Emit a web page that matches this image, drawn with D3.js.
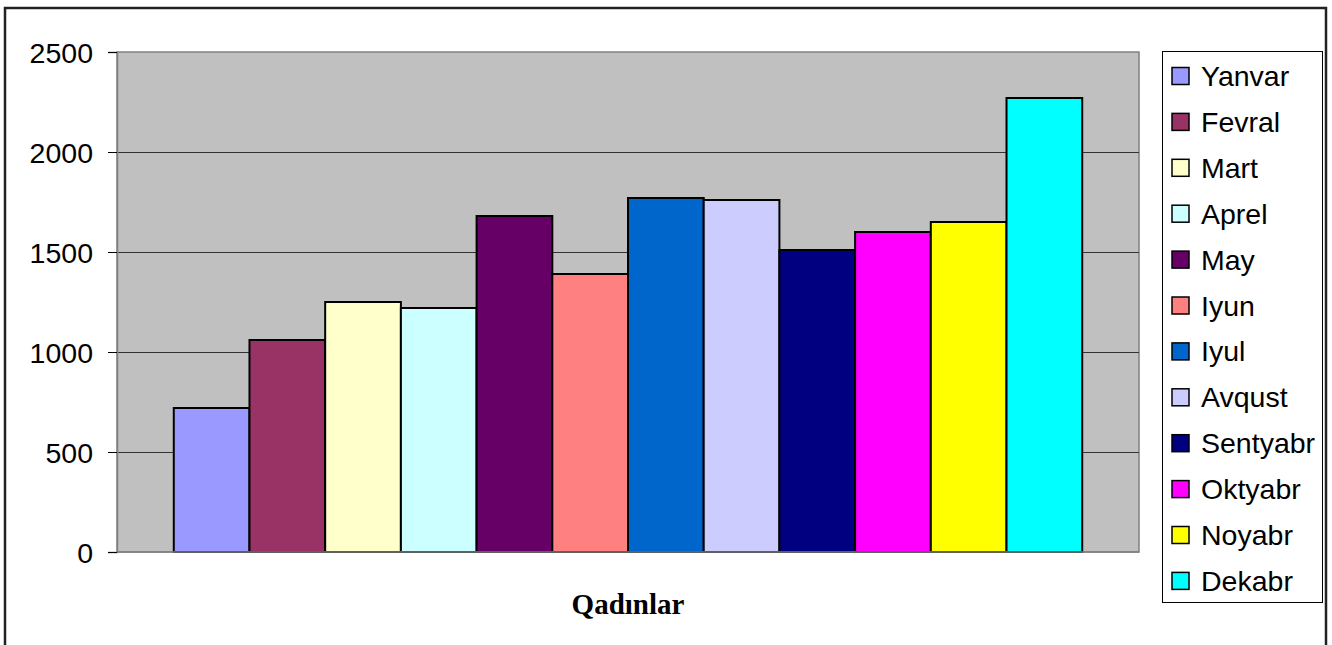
<!DOCTYPE html>
<html>
<head>
<meta charset="utf-8">
<script src="https://cdn.jsdelivr.net/npm/d3@7"></script>
<style>
  body { margin: 0; background: #fff; }
  svg { display: block; }
</style>
</head>
<body>
<div id="chart"></div>
<script>
var width = 1332;
var height = 645;

// data
var months = ['Yanvar', 'Fevral', 'Mart', 'Aprel', 'May', 'Iyun', 'Iyul', 'Avqust', 'Sentyabr', 'Oktyabr', 'Noyabr', 'Dekabr'];
var values = [720, 1060, 1250, 1220, 1680, 1390, 1770, 1760, 1510, 1600, 1650, 2270];
var colors = ['#9999FF', '#993366', '#FFFFCC', '#CCFFFF', '#660066', '#FF8080', '#0066CC', '#CCCCFF', '#000080', '#FF00FF', '#FFFF00', '#00FFFF'];
var yTicks = [0, 500, 1000, 1500, 2000, 2500];
var categoryTitle = 'Qadınlar';

var plot = { left: 117, right: 1139, top: 52, bottom: 552 };

var svg = d3.select("#chart")
    .append("svg")
    .attr("width", width)
    .attr("height", height)

// outer chart frame
svg.append("path")
    .attr("d", "M5,645 V8 H1326 V645")
    .attr("fill", "none")
    .attr("stroke", "#222")
    .attr("stroke-width", 2.5)

var y = d3.scaleLinear().domain([0, 2500]).range([plot.bottom, plot.top]);

// excel-ish gap width of 150% -> one category, bars side by side
var barW = (plot.right - plot.left) / (months.length + 1.5);
var x = d3.scaleBand()
    .domain(months)
    .range([plot.left + barW * 0.75, plot.right - barW * 0.75])
    .padding(0);

// plot background
svg.append("rect")
    .attr("x", plot.left)
    .attr("y", plot.top)
    .attr("width", plot.right - plot.left)
    .attr("height", plot.bottom - plot.top)
    .attr("fill", "#C0C0C0")
    .attr("stroke", "#808080")
    .attr("stroke-width", 1.5)

// gridlines
svg.selectAll(".grid")
    .data(yTicks.filter(function (d) { return d > 0 && d < 2500; }))
    .enter()
    .append("line")
    .attr("class", "grid")
    .attr("x1", plot.left)
    .attr("x2", plot.right)
    .attr("y1", function (d) { return Math.round(y(d)) + 0.5; })
    .attr("y2", function (d) { return Math.round(y(d)) + 0.5; })
    .attr("stroke", "#333")
    .attr("stroke-width", 1)

// y axis
var yAxis = d3.axisLeft(y)
    .tickValues(yTicks)
    .tickSize(9)
    .tickPadding(15)
    .tickFormat(d3.format("d"));

var ax = svg.append("g")
    .attr("transform", "translate(" + plot.left + ",0)")
    .call(yAxis)
ax.select(".domain").attr("stroke", "#808080").attr("stroke-width", 1.5)
ax.selectAll(".tick line").attr("stroke", "#000")
ax.selectAll(".tick text")
    .attr("font-family", "'Liberation Sans', Arial, sans-serif")
    .attr("font-size", 28.5)
    .attr("dy", "0.38em")
    .attr("fill", "#000")

// bars
svg.selectAll(".bar")
    .data(months)
    .enter()
    .append("rect")
    .attr("class", "bar")
    .attr("x", function (d) { return x(d); })
    .attr("y", function (d, i) { return y(values[i]); })
    .attr("width", x.bandwidth())
    .attr("height", function (d, i) { return plot.bottom - y(values[i]); })
    .attr("fill", function (d, i) { return colors[i]; })
    .attr("stroke", "#000")
    .attr("stroke-width", 2)

// bottom axis line
svg.append("line")
    .attr("x1", plot.left)
    .attr("x2", plot.right)
    .attr("y1", plot.bottom)
    .attr("y2", plot.bottom)
    .attr("stroke", "#808080")
    .attr("stroke-width", 1.5)

// category title
svg.append("text")
    .attr("x", (plot.left + plot.right) / 2)
    .attr("y", 614)
    .attr("text-anchor", "middle")
    .attr("font-family", "'Liberation Serif', 'Times New Roman', serif")
    .attr("font-weight", "bold")
    .attr("font-size", 29)
    .text(categoryTitle)

// legend
svg.append("rect")
    .attr("x", 1162.5)
    .attr("y", 51.5)
    .attr("width", 160)
    .attr("height", 551)
    .attr("fill", "#fff")
    .attr("stroke", "#000")
    .attr("stroke-width", 1)

var rowH = 45.9;
var items = svg.selectAll(".legend-item")
    .data(months)
    .enter()
    .append("g")
    .attr("class", "legend-item")
    .attr("transform", function (d, i) { return "translate(1172," + (76 + i * rowH) + ")"; })

items.append("rect")
    .attr("x", 0)
    .attr("y", -8.5)
    .attr("width", 17)
    .attr("height", 17)
    .attr("fill", function (d, i) { return colors[i]; })
    .attr("stroke", "#000")
    .attr("stroke-width", 1.5)

items.append("text")
    .attr("x", 29)
    .attr("y", 10)
    .attr("font-family", "'Liberation Sans', Arial, sans-serif")
    .attr("font-size", 28.5)
    .attr("fill", "#000")
    .text(function (d) { return d; })
</script>
</body>
</html>
